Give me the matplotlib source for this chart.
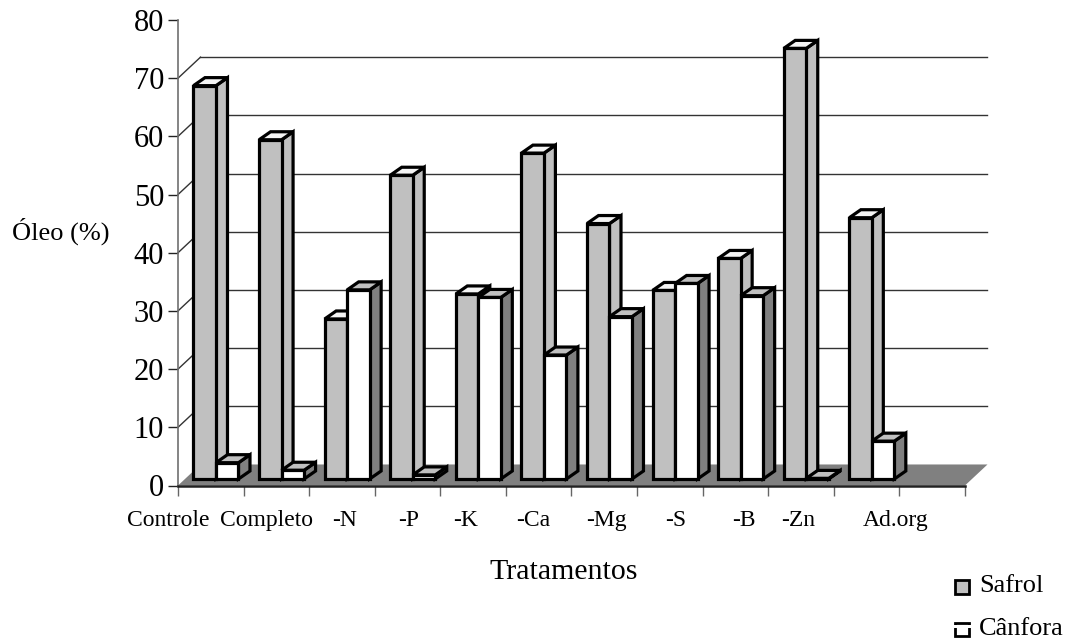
import matplotlib
matplotlib.use("Agg")
import matplotlib.pyplot as plt
from matplotlib.patches import Polygon, Rectangle

plt.rcParams["font.family"] = ["Liberation Serif"]

# Data
categories = ["Controle", "Completo", "-N", "-P", "-K", "-Ca", "-Mg", "-S", "-B", "-Zn", "Ad.org"]
safrol = [67.6, 58.3, 27.5, 52.2, 31.8, 56.0, 43.9, 32.4, 37.9, 74.0, 44.9]
canfora = [2.8, 1.5, 32.5, 0.7, 31.2, 21.3, 27.9, 33.6, 31.5, 0.1, 6.5]
yticks = [0, 10, 20, 30, 40, 50, 60, 70, 80]

# Label centres in category units, they do not sit under the groups in the original
label_pos = [-0.15, 1.35, 2.54, 3.51, 4.38, 5.41, 6.54, 7.59, 8.63, 9.45, 10.95]

W, H = 1068, 640
fig = plt.figure(figsize=(W / 100, H / 100), dpi=100)
# axes box = front plane of the chart
ax = fig.add_axes([178 / W, 1 - 485.5 / H, (965 - 178) / W, (485.5 - 20) / H])
ax.set_xlim(0, 12)
ax.set_ylim(0, 80)
ax.patch.set_visible(False)
for s in ["top", "right"]:
    ax.spines[s].set_visible(False)
ax.spines["left"].set_color("#707070")
ax.spines["left"].set_linewidth(1.2)
ax.spines["bottom"].set_color("#222222")
ax.spines["bottom"].set_linewidth(1.8)
ax.spines["bottom"].set_zorder(3)

# depth of the fake 3d, in data units
dx_back = 22.5 / 65.6
dy_back = 21 / 5.81
dx_bar = 11.5 / 65.6
dy_bar = 8 / 5.81
bar_w = 22.5 / 65.6
bar_off = 15.5 / 65.6
bar_base = 6.5 / 5.81

# floor
ax.add_patch(Polygon([(0, 0), (12, 0), (12 + dx_back, dy_back), (dx_back, dy_back)],
                     facecolor="#808080", edgecolor="none", zorder=1, clip_on=False))

# back gridlines with the little diagonals
for v in yticks[1:-1]:
    ax.plot([dx_back, 12 + dx_back], [v + dy_back, v + dy_back], color="#333333", lw=1,
            zorder=1, clip_on=False)
    ax.plot([0, dx_back], [v, v + dy_back], color="#333333", lw=1, zorder=1, clip_on=False)


def bar3d(x, h, front, top, side):
    y0 = bar_base
    y1 = bar_base + h
    edge = dict(edgecolor="black", linewidth=2.3, joinstyle="miter", zorder=2, clip_on=False)
    ax.add_patch(Polygon([(x + bar_w, y0), (x + bar_w + dx_bar, y0 + dy_bar),
                          (x + bar_w + dx_bar, y1 + dy_bar), (x + bar_w, y1)],
                         facecolor=side, **edge))
    ax.add_patch(Polygon([(x, y1), (x + dx_bar, y1 + dy_bar),
                          (x + bar_w + dx_bar, y1 + dy_bar), (x + bar_w, y1)],
                         facecolor=top, **edge))
    ax.add_patch(Rectangle((x, y0), bar_w, h, facecolor=front, **edge))


for i in range(len(categories)):
    bar3d(i + bar_off, safrol[i], "#C0C0C0", "#F4F4F4", "#C0C0C0")
    bar3d(i + bar_off + bar_w, canfora[i], "#FFFFFF", "#C0C0C0", "#808080")

ax.set_yticks(yticks)
ax.set_yticklabels([str(v) for v in yticks], fontsize=22)
ax.set_xticks(range(13))
ax.set_xticklabels([])
ax.tick_params(axis="y", length=7.5, width=1, color="#222222", pad=2.5)
ax.tick_params(axis="x", length=7, width=1, color="#666666")

for name, p in zip(categories, label_pos):
    ax.text(p, -6.0, name, ha="center", va="center", fontsize=17, clip_on=False)

fig.text(61 / W, 1 - 231 / H, "Óleo (%)", ha="center", va="center", fontsize=19)
fig.text(564 / W, 1 - 572 / H, "Tratamentos", ha="center", va="center", fontsize=21.5)

# legend by hand, second row is cut by the bottom of the picture
fig.add_artist(Rectangle((954.5 / W, 1 - 593.5 / H), 14 / W, 14 / H, transform=fig.transFigure,
                         facecolor="#C0C0C0", edgecolor="black", linewidth=2))
fig.text(979 / W, 1 - 586.5 / H, "Safrol", ha="left", va="center", fontsize=19)
fig.add_artist(Rectangle((954.5 / W, 1 - 636 / H), 14 / W, 13.5 / H, transform=fig.transFigure,
                         facecolor="white", edgecolor="black", linewidth=2))
fig.text(979 / W, 1 - 629 / H, "Cânfora", ha="left", va="center", fontsize=19)
# white scan band that crosses the second legend row
fig.add_artist(Rectangle((950 / W, 1 - 628 / H), 115 / W, 3 / H, transform=fig.transFigure,
                         facecolor="white", edgecolor="none"))

fig.savefig("out.png", dpi=100)
